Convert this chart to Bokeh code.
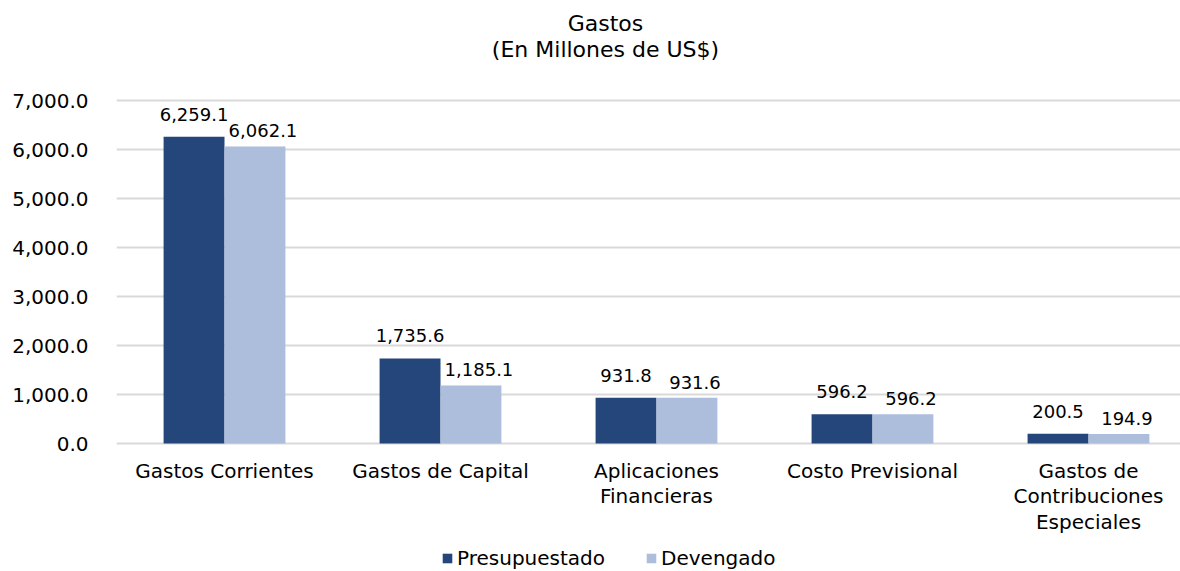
from bokeh.plotting import figure
from bokeh.models import (ColumnDataSource, FixedTicker, NumeralTickFormatter,
                          Range1d, Label, Legend, LegendItem)
from bokeh.core.properties import value
from bokeh.embed import file_html
from bokeh.resources import INLINE

categories = ["Gastos Corrientes", "Gastos de Capital", "Aplicaciones\nFinancieras",
              "Costo Previsional", "Gastos de\nContribuciones\nEspeciales"]
presupuestado = [6259.1, 1735.6, 931.8, 596.2, 200.5]
devengado = [6062.1, 1185.1, 931.6, 596.2, 194.9]
y_ticks = [0, 1000, 2000, 3000, 4000, 5000, 6000, 7000]
series_names = ["Presupuestado", "Devengado"]
title_lines = ["Gastos", "(En Millones de US$)"]

DARK = "#24467A"
LIGHT = "#ADBEDD"
FONT = "DejaVu Sans"

W, H = 1180, 571
ZERO_Y, TOP_Y = 443, 100          # pixel rows of 0 and 7000
upp = y_ticks[-1] / (ZERO_Y - TOP_Y)
y_start = -(H - ZERO_Y) * upp
y_end = ZERO_Y * upp

idx = list(range(len(categories)))
bw = 0.282
src = ColumnDataSource(dict(
    x1=[i - bw / 2 for i in idx], x2=[i + bw / 2 for i in idx],
    p=presupuestado, d=devengado,
    pl=[f"{v:,.1f}" for v in presupuestado], dl=[f"{v:,.1f}" for v in devengado],
))
cat_src = ColumnDataSource(dict(x=idx, y=[0] * len(idx), t=categories))

p = figure(width=W, height=H, output_backend="svg", toolbar_location=None,
           x_range=Range1d(-0.5, 4.426), y_range=Range1d(y_start, y_end),
           min_border_left=116, min_border_right=0, min_border_top=0,
           min_border_bottom=0, title=None)
p.outline_line_color = None
p.background_fill_color = "white"

r1 = p.vbar(x="x1", top="p", width=bw, source=src, fill_color=DARK, line_color=None)
r2 = p.vbar(x="x2", top="d", width=bw, source=src, fill_color=LIGHT, line_color=None)

p.text(x="x1", y="p", text="pl", source=src, text_align="center",
       text_baseline="bottom", y_offset=-16, text_font=value(FONT),
       text_font_size="18px", text_color="black")
p.text(x="x2", y="d", text="dl", source=src, text_align="center",
       text_baseline="bottom", y_offset=-9, x_offset=8, text_font=value(FONT),
       text_font_size="18px", text_color="black")

# category labels under the baseline
p.text(x="x", y="y", text="t", source=cat_src, text_align="center",
       text_baseline="top", y_offset=15, text_line_height=1.07,
       text_font=value(FONT), text_font_size="20px", text_color="black")

p.xaxis.visible = False
p.xgrid.visible = False
p.ygrid.ticker = FixedTicker(ticks=y_ticks)
p.ygrid.grid_line_color = "#D9D9D9"
p.ygrid.grid_line_width = 2
p.yaxis.ticker = FixedTicker(ticks=y_ticks)
p.yaxis.formatter = NumeralTickFormatter(format="0,0.0")
p.yaxis.axis_line_color = None
p.yaxis.major_tick_line_color = None
p.yaxis.minor_tick_line_color = None
p.yaxis.major_label_text_font = FONT
p.yaxis.major_label_text_font_size = "20px"
p.yaxis.major_label_text_color = "black"
p.yaxis.major_label_standoff = 22

for k, t in enumerate(title_lines):
    p.add_layout(Label(x=489, y=H - 23 - 26 * k, x_units="screen",
                       y_units="screen", text=t, text_align="center",
                       text_baseline="middle", text_font=FONT,
                       text_font_size="22px", text_color="black"))

legend = Legend(items=[LegendItem(label=series_names[0], renderers=[r1]),
                       LegendItem(label=series_names[1], renderers=[r2])],
                orientation="horizontal", location=(325, 1),
                glyph_width=12, glyph_height=12, label_standoff=4, spacing=40,
                padding=0, margin=0, border_line_color=None,
                background_fill_alpha=0, label_text_font=FONT,
                label_text_font_size="20px", label_text_color="black")
p.add_layout(legend, "center")

open("out.html", "w").write(file_html(p, INLINE))
